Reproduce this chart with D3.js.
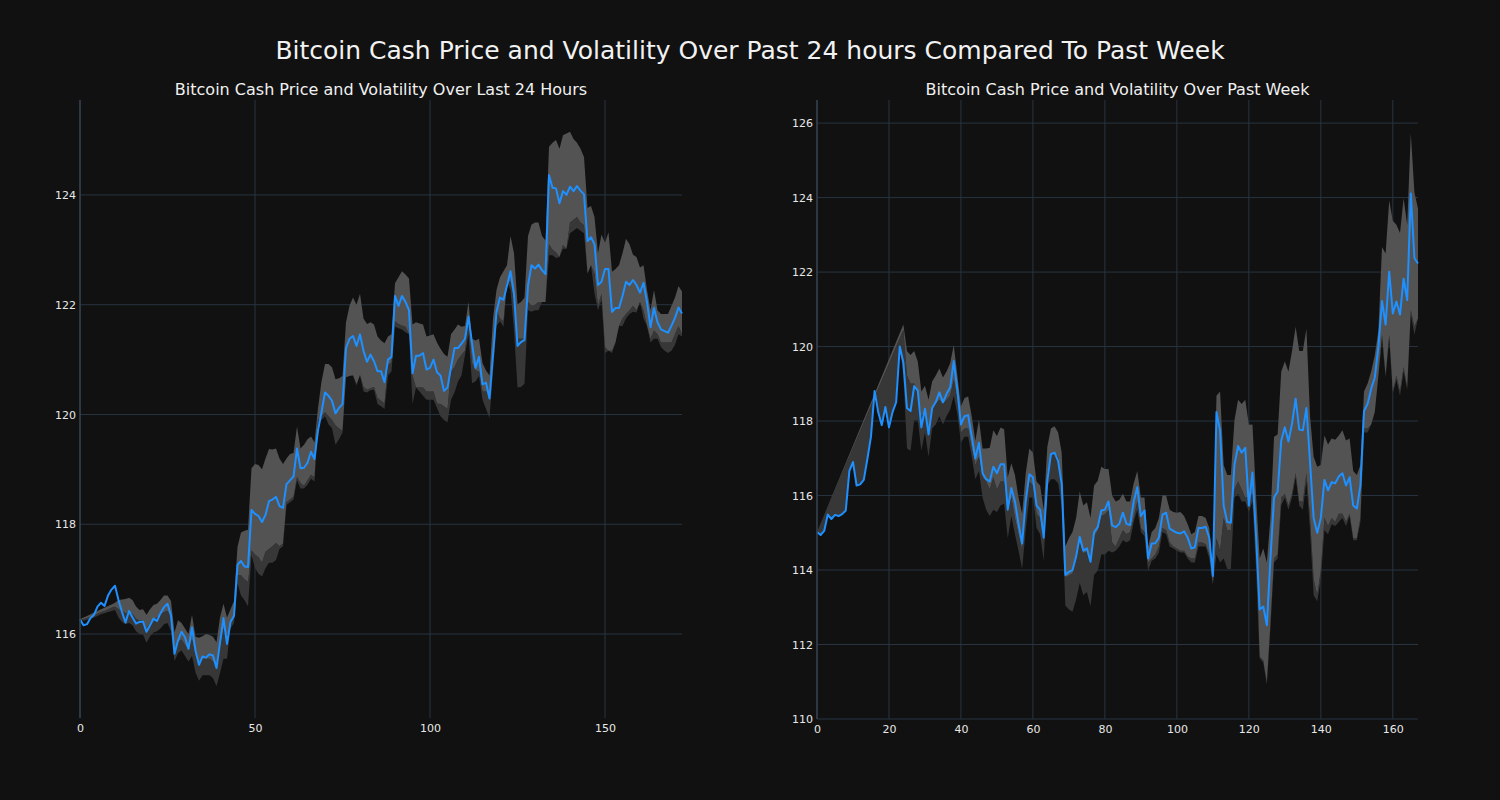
<!DOCTYPE html>
<html>
<head>
<meta charset="utf-8">
<script src="https://cdn.jsdelivr.net/npm/d3@7"></script>
<style>
html,body{margin:0;padding:0;background:#111111;}
svg{display:block;}
text{font-family:"DejaVu Sans",sans-serif;}
</style>
</head>
<body>
<svg id="chart" width="1500" height="800"></svg>
<script>
// ---------- DATA ----------
const mainTitle = "Bitcoin Cash Price and Volatility Over Past 24 hours Compared To Past Week";
const titleDay = "Bitcoin Cash Price and Volatility Over Last 24 Hours";
const titleWeek = "Bitcoin Cash Price and Volatility Over Past Week";

const dayTicksX = [0, 50, 100, 150];
const dayTicksY = [116, 118, 120, 122, 124];
const weekTicksX = [0, 20, 40, 60, 80, 100, 120, 140, 160];
const weekTicksY = [110, 112, 114, 116, 118, 120, 122, 124, 126];

const dayPrice = [116.27,116.16,116.18,116.29,116.35,116.5,116.57,116.51,116.7,116.81,
116.88,116.62,116.4,116.21,116.42,116.3,116.19,116.22,116.23,116.04,
116.16,116.28,116.24,116.38,116.49,116.55,116.34,115.64,115.88,116.04,
115.94,115.73,116.12,115.7,115.44,115.59,115.57,115.63,115.61,115.38,
115.84,116.29,115.82,116.22,116.33,117.26,117.33,117.23,117.22,118.26,
118.19,118.15,118.04,118.17,118.42,118.45,118.5,118.33,118.3,118.73,
118.8,118.87,119.38,119.02,119.03,119.12,119.32,119.19,119.71,120.04,
120.4,120.34,120.25,120.02,120.12,120.19,121.21,121.38,121.43,121.25,
121.46,121.16,120.96,121.09,120.97,120.79,120.79,120.59,121.0,121.05,
122.16,121.98,122.16,122.05,121.9,120.75,121.07,121.07,121.12,120.82,
120.85,121.0,120.77,120.71,120.43,120.49,120.86,121.21,121.21,121.29,
121.38,121.78,121.3,120.85,121.05,120.55,120.58,120.29,121.08,121.87,
122.13,122.09,122.35,122.61,122.2,121.25,121.32,121.36,122.35,122.72,
122.66,122.73,122.63,122.56,124.36,124.13,124.12,123.85,124.07,124.0,
124.15,124.07,124.16,124.08,124.01,123.16,123.23,123.1,122.36,122.42,
122.65,122.65,121.87,121.94,121.94,122.16,122.42,122.36,122.45,122.36,
122.22,122.4,122.05,121.59,121.94,121.68,121.55,121.52,121.49,121.62,
121.76,121.95,121.84];

const dayBandTop = [116.27,116.3,116.33,116.36,116.39,116.42,116.45,116.48,116.51,116.54,
116.57,116.62,116.63,116.64,116.66,116.62,116.5,116.44,116.45,116.35,
116.45,116.53,116.55,116.62,116.7,116.7,116.6,116.03,116.25,116.2,
116.1,116.0,116.35,115.95,115.93,115.96,116.0,115.98,115.95,115.85,
116.3,116.55,116.3,116.45,116.6,117.59,117.85,117.88,117.9,119.02,
119.1,119.08,119.0,119.2,119.37,119.36,119.38,119.2,119.1,119.2,
119.28,119.3,119.78,119.38,119.45,119.55,119.6,119.49,120.12,120.6,
120.92,120.92,120.86,120.64,120.66,120.7,121.68,121.98,122.13,122.0,
122.2,121.75,121.65,121.68,121.64,121.42,121.35,121.3,121.42,121.46,
122.39,122.5,122.61,122.55,122.48,121.64,121.68,121.66,121.64,121.42,
121.44,121.46,121.31,121.2,121.1,121.05,121.46,121.55,121.64,121.6,
121.61,122.05,121.38,121.35,121.38,120.94,120.8,120.71,121.75,122.27,
122.5,122.61,122.72,123.25,122.94,122.01,122.05,122.13,123.25,123.46,
123.5,123.5,123.25,123.17,124.88,124.95,125.0,124.84,125.09,125.12,
125.15,125.02,124.95,124.84,124.69,123.76,123.8,123.6,122.94,123.28,
123.13,123.32,122.6,122.65,122.72,122.94,123.2,123.1,122.91,122.87,
122.68,122.72,122.27,121.9,122.27,121.9,121.83,121.83,121.83,121.98,
122.13,122.34,122.24];

const dayBandMid = [116.27,116.27,116.29,116.31,116.34,116.37,116.4,116.42,116.45,116.48,
116.5,116.45,116.42,116.38,116.4,116.36,116.28,116.24,116.25,116.1,
116.2,116.28,116.3,116.35,116.4,116.42,116.3,115.7,115.85,115.9,
115.8,115.7,115.9,115.6,115.5,115.55,115.55,115.55,115.5,115.4,
115.75,116.1,115.95,116.2,116.3,117.07,117.07,117.0,116.95,117.52,
117.45,117.4,117.3,117.5,117.55,117.6,117.66,117.6,117.65,118.4,
118.45,118.5,118.86,118.75,118.7,118.8,118.9,118.85,119.9,119.97,
120.04,119.97,119.9,119.8,119.75,119.7,120.68,120.7,120.72,120.55,
120.72,120.5,120.45,120.48,120.5,120.3,120.25,120.2,120.9,120.95,
121.7,121.65,121.62,121.6,121.46,120.71,120.49,120.49,120.49,120.42,
120.42,120.42,120.2,120.19,120.15,120.1,120.79,120.86,121.0,121.09,
121.16,121.68,120.94,120.8,120.79,120.42,120.42,120.3,121.01,121.9,
121.75,121.7,122.42,122.42,122.05,121.38,121.38,121.38,122.05,121.98,
122.0,122.05,122.05,122.05,123.1,123.0,122.95,122.87,123.09,123.02,
123.5,123.55,123.6,123.5,123.45,122.57,122.72,122.57,121.98,122.2,
121.23,121.16,121.16,121.31,121.61,121.75,121.83,121.9,121.98,121.9,
122.05,121.9,121.61,121.38,121.53,121.46,121.31,121.31,121.31,121.31,
121.46,121.61,121.46];

const dayBandBot = [116.27,116.24,116.26,116.28,116.3,116.33,116.36,116.38,116.4,116.42,
116.44,116.3,116.22,116.18,116.2,116.16,116.05,116.0,115.99,115.84,
115.96,116.03,116.05,116.1,116.18,116.2,116.05,115.51,115.65,115.7,
115.6,115.5,115.6,115.3,115.15,115.25,115.25,115.25,115.2,115.05,
115.29,115.55,115.55,116.1,116.2,116.92,116.7,116.62,116.5,117.44,
117.2,117.1,117.05,117.2,117.3,117.3,117.35,117.55,117.6,118.35,
118.4,118.45,118.8,118.65,118.65,118.72,118.83,118.78,119.82,119.9,
119.97,119.82,119.75,119.45,119.55,119.67,120.68,120.7,120.7,120.53,
120.71,120.42,120.4,120.44,120.45,120.19,120.15,120.1,120.71,120.79,
121.6,121.57,121.55,121.5,121.46,120.19,120.49,120.42,120.34,120.27,
120.27,120.27,120.12,119.97,119.9,119.86,120.27,120.4,120.6,120.71,
121.09,121.46,120.57,120.6,120.7,120.27,120.1,119.93,120.79,121.61,
121.7,121.6,122.42,122.27,121.53,120.49,120.5,120.56,121.9,121.87,
121.9,121.9,122.05,122.05,122.9,122.9,122.85,122.87,123.02,123.02,
123.3,123.35,123.4,123.35,123.3,122.57,122.72,122.2,121.9,122.09,
121.12,121.16,121.12,121.31,121.61,121.61,121.75,121.83,121.87,121.86,
122.05,121.75,121.61,121.31,121.38,121.38,121.23,121.16,121.12,121.16,
121.27,121.46,121.42];

const weekPrice = [115.02,114.94,115.05,115.49,115.37,115.48,115.45,115.5,115.6,116.66,
116.9,116.27,116.3,116.42,116.98,117.58,118.81,118.24,117.89,118.38,
117.83,118.24,118.51,120.0,119.57,118.35,118.27,118.94,118.82,117.83,
118.33,117.64,118.35,118.51,118.77,118.5,118.73,118.9,119.61,118.84,
117.91,118.13,118.16,117.58,117.0,117.42,116.6,116.44,116.38,116.77,
116.6,116.84,116.84,115.62,116.2,115.84,115.24,114.71,115.84,116.57,
116.49,115.73,115.62,114.87,116.4,117.11,117.15,116.93,116.3,113.87,
113.95,114.0,114.36,114.89,114.52,114.58,114.22,115.02,115.15,115.6,
115.62,115.84,115.2,115.15,115.24,115.54,115.24,115.21,115.84,116.22,
115.45,115.6,114.31,114.71,114.72,114.87,115.49,115.54,115.11,115.05,
115.0,114.98,115.04,114.87,114.58,114.61,115.13,115.13,115.16,114.87,
113.84,118.24,117.75,115.73,115.29,115.27,116.82,117.33,117.15,117.28,
115.73,116.62,114.91,112.94,113.02,112.52,114.31,115.95,116.11,117.48,
117.83,117.45,117.93,118.6,117.77,117.75,118.35,116.9,115.4,115.0,
115.4,116.42,116.14,116.36,116.33,116.51,116.6,116.27,116.49,115.73,
115.65,116.27,118.27,118.46,118.87,119.17,120.0,121.22,120.59,122.01,
120.89,121.21,120.86,121.82,121.25,124.11,122.37,122.23];

// null = no value at that step (the band edge is drawn straight across the gap)
const weekBandTop = [115.02,null,null,null,null,null,null,null,null,null,
null,null,null,null,null,null,null,null,null,null,
null,null,null,null,120.59,119.88,119.77,119.88,119.6,118.79,
118.95,118.57,119.06,119.22,119.41,119.17,119.33,119.55,120.04,119.22,
118.4,118.62,118.66,118.13,117.47,118.04,117.26,117.26,117.28,117.75,
117.6,117.83,117.78,116.49,116.87,116.55,115.95,115.51,116.6,117.26,
117.15,116.38,116.27,115.62,117.31,117.8,117.86,117.69,117.15,114.63,
114.85,115.02,115.4,116.11,115.73,115.82,115.4,116.27,116.4,116.77,
116.71,116.71,116.0,115.84,115.89,116.05,115.84,115.84,116.33,116.66,
115.95,115.95,114.63,115.02,115.13,115.4,116.0,116.0,115.62,115.56,
115.54,115.56,115.45,115.23,114.96,115.02,115.45,115.45,115.4,115.13,
113.87,118.68,118.79,116.82,116.55,116.55,118.02,118.57,118.46,118.57,
117.9,117.91,116.0,114.31,114.58,114.2,115.4,117.58,117.64,119.33,
119.6,119.33,119.88,120.53,119.88,119.88,120.48,118.13,117.04,116.77,
116.82,117.61,117.37,117.53,117.5,117.61,117.75,117.48,117.53,116.66,
116.55,116.82,118.79,119.01,119.33,119.77,120.43,122.67,122.5,123.92,
123.38,123.27,123.05,123.98,123.27,125.73,124.14,123.7];

const weekBandMid = [115.02,null,null,null,null,null,null,null,null,null,
null,null,null,null,null,null,null,null,null,null,
null,null,null,null,120.45,119.22,119.0,119.01,118.79,118.13,
118.24,117.58,118.35,118.46,118.57,118.46,118.57,118.68,119.11,118.57,
117.69,117.8,117.8,117.26,116.82,117.04,116.49,116.38,116.16,116.49,
116.16,116.38,116.38,115.62,115.95,115.4,114.96,114.52,115.73,116.38,
116.27,115.51,115.4,114.74,116.6,117.04,117.15,117.04,116.38,113.8,
113.85,113.9,114.25,114.75,114.45,114.5,114.15,114.9,115.05,115.45,
115.5,115.6,114.74,114.63,114.85,115.07,114.96,115.02,115.4,115.84,
115.13,115.02,114.2,114.31,114.42,114.63,115.13,115.07,114.74,114.63,
114.58,114.52,114.52,114.36,114.31,114.31,114.74,114.74,114.69,114.42,
113.65,114.85,114.52,115.4,115.07,115.07,116.16,116.38,116.16,115.95,
115.95,116.05,114.69,111.68,111.57,110.97,112.56,114.31,114.42,115.95,
116.05,115.73,116.05,116.6,115.84,115.84,116.6,115.4,113.76,113.32,
114.0,115.4,115.18,115.4,115.29,115.51,115.51,115.29,115.51,114.85,
114.85,115.4,117.8,117.8,117.91,118.24,119.22,120.32,119.22,120.32,
118.79,119.22,118.79,119.45,118.9,120.97,120.54,120.75];

const weekBandBot = [115.02,114.94,115.05,115.49,115.37,115.48,115.45,115.5,115.6,116.66,
116.9,116.27,116.3,116.42,116.98,117.58,118.81,118.24,117.89,118.38,
117.83,118.24,118.51,120.0,119.22,117.26,117.2,118.02,118.02,117.2,
117.69,117.04,117.8,117.91,118.13,117.91,118.13,118.3,118.68,118.19,
117.42,117.58,117.58,117.04,116.44,116.66,115.95,115.62,115.45,115.62,
115.56,115.73,115.78,114.85,115.45,114.96,114.52,114.03,115.07,115.95,
115.95,115.13,114.96,114.25,116.27,116.44,116.44,116.33,115.73,113.05,
112.94,112.88,113.21,113.65,113.32,113.41,113.02,113.87,113.98,114.42,
114.42,114.52,114.47,114.52,114.63,114.8,114.74,114.8,115.29,115.62,
115.02,114.91,113.98,114.25,114.31,114.47,115.02,114.96,114.63,114.58,
114.52,114.47,114.47,114.31,114.2,114.2,114.63,114.63,114.63,114.31,
113.6,114.42,114.2,114.31,114.03,114.03,115.95,116.05,115.84,115.84,
115.56,115.84,114.03,111.63,111.52,110.92,112.45,114.2,114.31,115.73,
115.95,115.62,115.95,116.49,115.73,115.62,116.38,115.07,113.32,113.16,
113.76,115.07,114.96,115.23,115.18,115.29,115.4,115.18,115.45,114.8,
114.8,115.29,117.69,117.69,117.91,118.24,119.22,120.21,119.17,120.21,
118.74,119.11,118.68,119.33,118.84,120.86,120.32,120.75];

// ---------- DRAW ----------
const svg = d3.select("#chart");
const COL_BG = "#111111", COL_GRID = "#283442", COL_SPINE = "#34404f",
      COL_TEXT = "#e8e8e8", COL_LINE = "#1e90ff",
      COL_LIGHT = "#535353", COL_DARK = "#373737";

svg.append("rect").attr("width",1500).attr("height",800).attr("fill",COL_BG);

svg.append("text").attr("x",750).attr("y",59).attr("text-anchor","middle")
  .attr("font-size",25).attr("fill","#f2f2f2").text(mainTitle);

function panel(cfg){
  const x = d3.scaleLinear().domain(cfg.xDomain).range([cfg.left, cfg.right]);
  const y = d3.scaleLinear().domain(cfg.yDomain).range([cfg.bottom, cfg.top]);
  const g = svg.append("g");

  // grid
  g.selectAll(".gx").data(cfg.ticksX).enter().append("line")
    .attr("x1",d=>x(d)).attr("x2",d=>x(d)).attr("y1",cfg.top).attr("y2",cfg.bottom)
    .attr("stroke",COL_GRID).attr("stroke-width",1);
  g.selectAll(".gy").data(cfg.ticksY).enter().append("line")
    .attr("x1",cfg.left).attr("x2",cfg.right).attr("y1",d=>y(d)).attr("y2",d=>y(d))
    .attr("stroke",COL_GRID).attr("stroke-width",1);

  // bands
  const line = d3.line().x(d=>x(d[0])).y(d=>y(d[1]));
  function band(upper, lower, color){
    const up = upper.map((v,i)=>[i,v]).filter(d=>d[1]!=null);
    const lo = lower.map((v,i)=>[i,v]).filter(d=>d[1]!=null).reverse();
    g.append("path").attr("d", line(up.concat(lo)) + "Z").attr("fill",color).attr("stroke","none");
  }
  band(cfg.mid, cfg.bot, COL_DARK);
  band(cfg.top_, cfg.mid, COL_LIGHT);

  // price line
  g.append("path").datum(cfg.price.map((v,i)=>[i,v]))
    .attr("d", line).attr("fill","none").attr("stroke",COL_LINE)
    .attr("stroke-width",2).attr("stroke-linejoin","round");

  // spine
  g.append("line").attr("x1",cfg.left).attr("x2",cfg.left).attr("y1",cfg.top).attr("y2",cfg.bottom)
    .attr("stroke",COL_SPINE).attr("stroke-width",1.5);

  // axes labels
  const ax = d3.axisBottom(x).tickValues(cfg.ticksX).tickSize(0).tickPadding(6);
  const axg = g.append("g").attr("transform",`translate(0,${cfg.bottom})`).call(ax);
  const ay = d3.axisLeft(y).tickValues(cfg.ticksY).tickSize(0).tickPadding(4);
  const ayg = g.append("g").attr("transform",`translate(${cfg.left},0)`).call(ay);
  [axg, ayg].forEach(a=>{
    a.select(".domain").remove();
    a.selectAll("text").attr("fill",COL_TEXT).attr("font-size",11).attr("font-family","DejaVu Sans");
  });

  g.append("text").attr("x",(cfg.left+cfg.right)/2).attr("y",cfg.top-5)
    .attr("text-anchor","middle").attr("font-size",16).attr("fill","#f0f0f0").text(cfg.title);
}

panel({left:80, right:682, top:100, bottom:718, xDomain:[0,172], yDomain:[114.47,125.73],
  ticksX:dayTicksX, ticksY:dayTicksY, price:dayPrice, top_:dayBandTop, mid:dayBandMid, bot:dayBandBot,
  title:titleDay});
panel({left:817, right:1418, top:100, bottom:719, xDomain:[0,167], yDomain:[110,126.62],
  ticksX:weekTicksX, ticksY:weekTicksY, price:weekPrice, top_:weekBandTop, mid:weekBandMid, bot:weekBandBot,
  title:titleWeek});
</script>
</body>
</html>
